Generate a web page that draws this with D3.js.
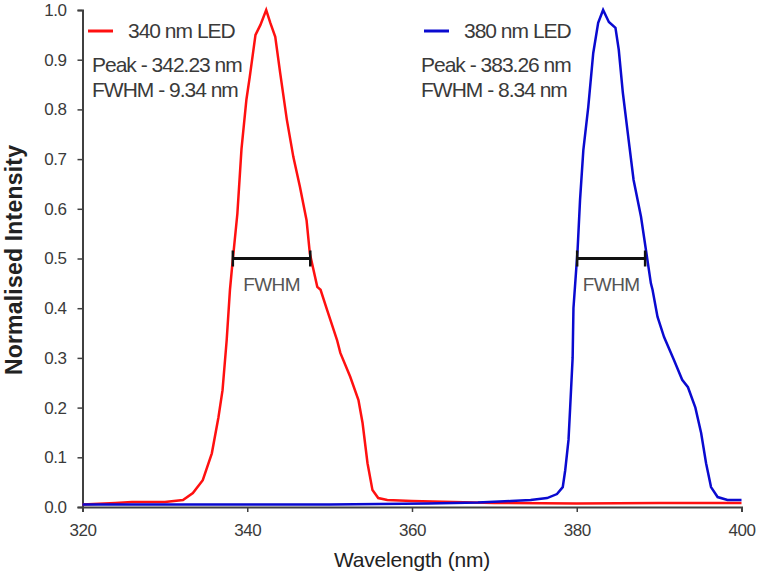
<!DOCTYPE html>
<html><head><meta charset="utf-8">
<script src="https://cdn.jsdelivr.net/npm/d3@7/dist/d3.min.js"></script>
<style>body{margin:0;background:#fff;} text{font-family:"Liberation Sans",Arial,sans-serif;}</style>
</head><body>
<svg id="c" width="760" height="576"></svg>
<script>
const xTicks = [320, 340, 360, 380, 400];
const yTicks = [0, 0.1, 0.2, 0.3, 0.4, 0.5, 0.6, 0.7, 0.8, 0.9, 1.0];

const redWl = [320,324,326,328,330,332.2,333.4,334.6,335.7,336.5,337,337.5,337.9,338.2,338.8,339.3,339.9,340.3,341,341.6,342.3,342.8,343.4,344,344.8,345.6,346.4,347.2,347.6,348.5,348.9,349.7,350.9,351.3,352.5,353.5,354,354.6,355.2,355.9,357,360,365,370,380,390,400];
const redI = [0.005,0.008,0.01,0.01,0.01,0.014,0.028,0.054,0.108,0.18,0.235,0.335,0.437,0.49,0.59,0.72,0.82,0.865,0.95,0.97,1.0,0.974,0.946,0.873,0.78,0.704,0.644,0.577,0.51,0.443,0.437,0.396,0.336,0.31,0.262,0.215,0.169,0.088,0.034,0.018,0.014,0.012,0.01,0.008,0.007,0.008,0.008];

const blueWl = [320,330,340,350,356,362,368,372,374.4,376.4,377.6,378.3,378.6,379,379.2,379.5,379.6,380.1,380.4,380.8,381.4,382,382.6,383.2,383.9,384.7,385.1,385.6,386.3,386.9,387.8,388.4,389,389.2,389.8,390.6,391.8,392.8,393.5,394.4,395.1,395.7,396.3,397.1,398.3,400];
const blueI = [0.005,0.005,0.005,0.005,0.006,0.007,0.009,0.012,0.014,0.018,0.026,0.04,0.074,0.135,0.2,0.3,0.4,0.517,0.618,0.718,0.805,0.913,0.974,1.0,0.976,0.964,0.92,0.833,0.738,0.658,0.584,0.517,0.45,0.437,0.383,0.342,0.296,0.256,0.241,0.2,0.149,0.088,0.04,0.02,0.014,0.014];

const seriesNames = ["340 nm LED", "380 nm LED"];
const peakLabels = ["Peak - 342.23 nm", "Peak - 383.26 nm"];
const fwhmLabels = ["FWHM - 9.34 nm", "FWHM - 8.34 nm"];
const fwhmStart = [338.25, 380.05];
const fwhmEnd = [347.65, 388.3];
const fwhmLevel = 0.5;

const svg = d3.select("#c");
const x = d3.scaleLinear().domain([320, 400]).range([82.5, 741.5]);
const y = d3.scaleLinear().domain([0, 1]).range([507, 10]);
const axisColor = "#404040";
const textColor = "#3a3a3a";

// axes
const gx = svg.append("g").attr("transform", "translate(0,507)")
  .call(d3.axisBottom(x).tickValues(xTicks).tickSize(5).tickPadding(12).tickFormat(d3.format("d")));
const gy = svg.append("g").attr("transform", "translate(82.5,0)")
  .call(d3.axisLeft(y).tickValues(yTicks).tickSize(5).tickPadding(11).tickFormat(d3.format(".1f")));
[gx, gy].forEach(g => {
  g.select(".domain").attr("stroke", axisColor).attr("stroke-width", 2);
  g.selectAll(".tick line").attr("stroke", axisColor).attr("stroke-width", 1.5);
  g.selectAll(".tick text").attr("fill", textColor).style("font-size", "17px").style("letter-spacing", "-0.5px");
});

const line = d3.line().x(d => x(d[0])).y(d => y(d[1]));
const redData = redWl.map((w, i) => [w, redI[i]]);
const blueData = blueWl.map((w, i) => [w, blueI[i]]);
svg.append("path").datum(redData).attr("d", line).attr("fill", "none").attr("stroke", "#ff1010").attr("stroke-width", 2.5);
svg.append("path").datum(blueData).attr("d", line).attr("fill", "none").attr("stroke", "#0a0ad0").attr("stroke-width", 2.5);

// FWHM bars
for (let i = 0; i < 2; i++) {
  const g = svg.append("g");
  const yy = y(fwhmLevel);
  g.append("line").attr("x1", x(fwhmStart[i])).attr("x2", x(fwhmEnd[i])).attr("y1", yy).attr("y2", yy)
    .attr("stroke", "#111").attr("stroke-width", 3);
  [fwhmStart[i], fwhmEnd[i]].forEach(v => g.append("line").attr("x1", x(v)).attr("x2", x(v))
    .attr("y1", yy - 8).attr("y2", yy + 8).attr("stroke", "#111").attr("stroke-width", 2.5));
  g.append("text").attr("x", x((fwhmStart[i] + fwhmEnd[i]) / 2)).attr("y", yy + 32)
    .attr("text-anchor", "middle").attr("fill", "#555").style("font-size", "19px").style("letter-spacing", "-0.6px")
    .text("FWHM");
}

// legend
const legX = [88, 424];
const legTextX = [92, 421];
const colors = ["#ff1010", "#0a0ad0"];
for (let i = 0; i < 2; i++) {
  svg.append("line").attr("x1", legX[i]).attr("x2", legX[i] + 25).attr("y1", 31).attr("y2", 31)
    .attr("stroke", colors[i]).attr("stroke-width", 3);
  svg.append("text").attr("x", legX[i] + 40).attr("y", 38).attr("fill", textColor)
    .style("font-size", "21px").style("letter-spacing", "-1px").text(seriesNames[i]);
  svg.append("text").attr("x", legTextX[i]).attr("y", 72).attr("fill", textColor)
    .style("font-size", "21px").style("letter-spacing", "-1px").text(peakLabels[i]);
  svg.append("text").attr("x", legTextX[i]).attr("y", 97).attr("fill", textColor)
    .style("font-size", "21px").style("letter-spacing", "-1px").text(fwhmLabels[i]);
}

// axis titles
svg.append("text").attr("x", 412).attr("y", 567).attr("text-anchor", "middle").attr("fill", "#222")
  .style("font-size", "21px").style("letter-spacing", "-0.2px").text("Wavelength (nm)");
svg.append("text").attr("transform", "translate(22,260) rotate(-90)").attr("text-anchor", "middle")
  .attr("fill", "#222").style("font-size", "23px").style("font-weight", "bold").style("letter-spacing", "0.2px")
  .text("Normalised Intensity");
</script>
</body></html>
